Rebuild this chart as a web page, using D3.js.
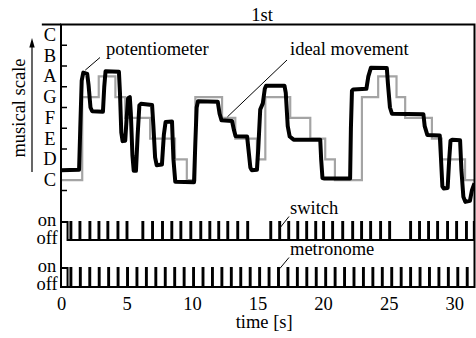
<!DOCTYPE html>
<html>
<head>
<meta charset="utf-8">
<script src="https://cdn.jsdelivr.net/npm/d3@7"></script>
<style>
  body { margin: 0; background: #fff; }
  svg { display: block; }
  text { font-family: "Liberation Serif", "Times New Roman", serif; font-size: 18.5px; fill: #000; }
</style>
</head>
<body>
<svg id="chart" width="476" height="338"></svg>
<script>
// notes from bottom to top, C = 0 ... upper C = 7
var noteNames = ["C", "D", "E", "F", "G", "A", "B", "C"];

// ideal movement: start of each note [s] and its note index
var idealStart = [0, 1.62, 2.88, 4.15, 4.9, 6.8, 8.7, 9.6, 10.25, 12.29, 13.3, 14.95, 15.59,
                  17.49, 19.02, 20.16, 20.9, 22.96, 24.2, 25.6, 26.26, 28.3, 29.05, 30.83];
var idealNote  = [0, 4, 5, 4, 3, 2, 1, 0, 4, 3, 2, 1, 4,
                  3, 2, 1, 0, 4, 5, 4, 3, 2, 1, 0];

// potentiometer trace: time [s] and position in notes
var potTime = [0, 1.38, 1.47, 1.58, 1.7, 2.0, 2.1, 2.25, 2.38, 3.2, 3.3, 3.4, 4.42, 4.5, 4.6, 4.7, 4.9,
  5.0, 5.12, 5.25, 5.33, 5.45, 5.55, 5.72, 5.85, 5.98, 6.1, 6.95, 7.05, 7.18, 7.3, 7.7, 7.85, 7.98,
  8.47, 8.58, 8.72, 10.15, 10.25, 10.35, 10.45, 11.96, 12.1, 12.25, 13.05, 13.2, 13.32, 14.2, 14.3,
  14.45, 14.55, 14.95, 15.05, 15.2, 15.4, 15.55, 15.65, 17.05, 17.15, 17.3, 17.45, 17.75, 19.78,
  19.85, 19.95, 20.05, 22.06, 22.12, 22.2, 22.3, 23.3, 23.45, 23.65, 24.86, 24.95, 25.1, 25.25,
  27.65, 27.75, 27.95, 28.9, 28.98, 29.1, 29.2, 29.5, 29.62, 29.72, 29.85, 30.45, 30.55, 30.7,
  30.85, 31.2, 31.35, 31.55];
var potValue = [0.48, 0.5, 2.5, 4.8, 5.18, 5.12, 4.6, 3.5, 3.32, 3.3, 4.5, 5.25, 5.22, 4.2, 2.3, 1.88, 1.9,
  2.9, 3.95, 4.0, 3.2, 1.2, 0.45, 0.45, 2.2, 3.6, 3.68, 3.62, 2.6, 1.1, 0.72, 0.75, 2.2, 2.8,
  2.82, 1.0, -0.08, -0.1, 1.8, 3.5, 3.8, 3.78, 3.2, 2.88, 2.85, 2.4, 2.12, 2.1, 1.5,
  0.6, 0.48, 0.5, 1.5, 3.4, 3.7, 4.4, 4.55, 4.55, 4.2, 2.6, 2.1, 1.95, 1.95,
  1.0, 0.1, 0.08, 0.08, 2.5, 4.3, 4.37, 4.4, 5.0, 5.42, 5.4, 4.6, 3.5, 3.2,
  3.18, 2.6, 2.18, 2.15, 1.2, -0.3, -0.4, -0.38, 1.0, 1.9, 1.95, 1.92, 0.5, -0.8,
  -1.05, -1.0, -0.5, -0.15];

// switch presses and metronome clicks [s]
var switchTimes = [0.72, 1.41, 2.17, 2.86, 3.54, 4.31, 5.0, 6.21, 6.95, 7.71, 8.42, 9.11, 9.87,
  10.63, 11.32, 12.0, 12.69, 13.45, 14.21, 15.97, 16.65, 17.34, 18.03, 18.71, 19.4, 20.0, 20.69,
  21.46, 22.22, 22.9, 23.59, 24.35, 25.04, 26.64, 27.32, 28.01, 28.7, 29.46, 30.15, 30.9, 31.5];
var metronomeTimes = [0.72, 1.44, 2.16, 2.88, 3.6, 4.32, 5.04, 5.76, 6.48, 7.2, 7.92, 8.64, 9.36,
  10.08, 10.8, 11.52, 12.24, 12.96, 13.68, 14.4, 15.12, 15.84, 16.56, 17.28, 18.0, 18.72, 19.44,
  20.16, 20.88, 21.6, 22.32, 23.04, 23.76, 24.48, 25.2, 25.92, 26.64, 27.36, 28.08, 28.8, 29.52,
  30.24, 30.96];

var timeTicks = [0, 5, 10, 15, 20, 25, 30];

var plotL = 61, plotR = 474.5, plotT = 24.5, plotB = 287;
var tMax = 31.55, pulseLen = 0.07, firstOn = 0.5;

var svg = d3.select("#chart");

var x = d3.scaleLinear().domain([0, tMax]).range([plotL, plotR]);
var yNote = d3.scaleLinear().domain([-0.5, 7.5]).range([190.5, plotT]);
var ySwitch = d3.scaleLinear().domain([0, 1]).range([240, 222]);
var yMetro = d3.scaleLinear().domain([0, 1]).range([plotB, 268]);

svg.append("clipPath").attr("id", "plotClip")
  .append("rect").attr("x", plotL).attr("y", plotT)
  .attr("width", plotR - plotL).attr("height", plotB - plotT);

var plot = svg.append("g").attr("clip-path", "url(#plotClip)");

// ideal movement (grey steps)
var idealPts = idealStart.map(function(t, i) { return [t, idealNote[i]]; });
idealPts.push([tMax, idealNote[idealNote.length - 1]]);
plot.append("path")
  .attr("d", d3.line().curve(d3.curveStepAfter)
    .x(function(d) { return x(d[0]); })
    .y(function(d) { return yNote(d[1]); })(idealPts))
  .attr("fill", "none")
  .attr("stroke", "#a4a4a4")
  .attr("stroke-width", 2.2);

// potentiometer (black)
var potPts = potTime.map(function(t, i) { return [t, potValue[i]]; });
plot.append("path")
  .attr("d", d3.line()
    .x(function(d) { return x(d[0]); })
    .y(function(d) { return yNote(d[1]); })(potPts))
  .attr("fill", "none")
  .attr("stroke", "#000")
  .attr("stroke-width", 4)
  .attr("stroke-linejoin", "round");

// on/off signals
function pulsePoints(times) {
  var pts = [[0, 1], [firstOn, 1], [firstOn, 0]];
  times.forEach(function(t) {
    pts.push([t, 0], [t, 1], [t + pulseLen, 1], [t + pulseLen, 0]);
  });
  pts.push([tMax, 0]);
  return pts;
}

function drawSignal(times, yScale) {
  plot.append("path")
    .attr("d", d3.line()
      .x(function(d) { return x(d[0]); })
      .y(function(d) { return yScale(d[1]); })(pulsePoints(times)))
    .attr("fill", "none")
    .attr("stroke", "#000")
    .attr("stroke-width", 2);
}
drawSignal(switchTimes, ySwitch);
drawSignal(metronomeTimes, yMetro);

// frame
svg.append("rect")
  .attr("x", plotL).attr("y", plotT)
  .attr("width", plotR - plotL).attr("height", plotB - plotT)
  .attr("fill", "none").attr("stroke", "#000").attr("stroke-width", 2);

// note ticks (inward, between the notes)
var tickVals = d3.range(-0.5, 7, 1);
svg.selectAll(".ntick").data(tickVals).enter().append("line")
  .attr("class", "ntick")
  .attr("x1", plotL).attr("x2", plotL + 6)
  .attr("y1", function(d) { return yNote(d); })
  .attr("y2", function(d) { return yNote(d); })
  .attr("stroke", "#000").attr("stroke-width", 1.5);

// note labels
var labels = svg.selectAll(".nlab").data(noteNames).enter().append("text")
  .attr("class", "nlab")
  .attr("x", 50)
  .attr("y", function(d, i) { return yNote(i); })
  .attr("dy", "0.32em")
  .attr("text-anchor", "middle")
  .text(function(d) { return d; });

// bar over the upper C
var topC = labels.filter(function(d, i) { return i === 7; }).node().getBBox();
svg.append("line")
  .attr("x1", topC.x - 2).attr("x2", plotL)
  .attr("y1", plotT).attr("y2", plotT)
  .attr("stroke", "#000").attr("stroke-width", 2);

// on / off labels
[[226, 243.5], [272, 289.5]].forEach(function(r) {
  svg.append("text").attr("x", 47).attr("y", r[0]).attr("text-anchor", "middle").text("on");
  svg.append("text").attr("x", 47).attr("y", r[1]).attr("text-anchor", "middle").text("off");
});

// time axis
var xAxis = svg.append("g")
  .attr("transform", "translate(0," + plotB + ")")
  .call(d3.axisBottom(x).tickValues(timeTicks).tickSize(0).tickPadding(9.5));
xAxis.select(".domain").remove();
xAxis.attr("font-family", null).attr("font-size", null);
xAxis.selectAll("text").attr("fill", "#000");

svg.append("text")
  .attr("x", x(15.5)).attr("y", 328)
  .attr("text-anchor", "middle")
  .text("time [s]");

svg.append("text")
  .attr("x", 262).attr("y", 20.5)
  .attr("text-anchor", "middle")
  .text("1st");

// y label and arrow
svg.append("text")
  .attr("transform", "translate(25,108) rotate(-90)")
  .attr("text-anchor", "middle")
  .text("musical scale");

svg.append("line")
  .attr("x1", 32).attr("x2", 32).attr("y1", 172).attr("y2", 46)
  .attr("stroke", "#000").attr("stroke-width", 1.2);
svg.append("path")
  .attr("d", "M32,38 L29.3,47.5 L34.7,47.5 Z")
  .attr("fill", "#000");

// annotations with pointer lines
var notes = [
  { text: "potentiometer", tx: 106, ty: 55, from: [100, 57.5], to: [x(1.85), yNote(5.3)] },
  { text: "ideal movement", tx: 290, ty: 55, from: [287, 60], to: [x(12.7), yNote(3.05)] },
  { text: "switch", tx: 290, ty: 214, from: [289, 216.5], to: [x(16.7), 228] },
  { text: "metronome", tx: 290, ty: 255, from: [289, 257.5], to: [x(16.7), 268.5] }
];
notes.forEach(function(n) {
  svg.append("line")
    .attr("x1", n.from[0]).attr("y1", n.from[1])
    .attr("x2", n.to[0]).attr("y2", n.to[1])
    .attr("stroke", "#000").attr("stroke-width", 1);
  svg.append("text").attr("x", n.tx).attr("y", n.ty).text(n.text);
});
</script>
</body>
</html>
